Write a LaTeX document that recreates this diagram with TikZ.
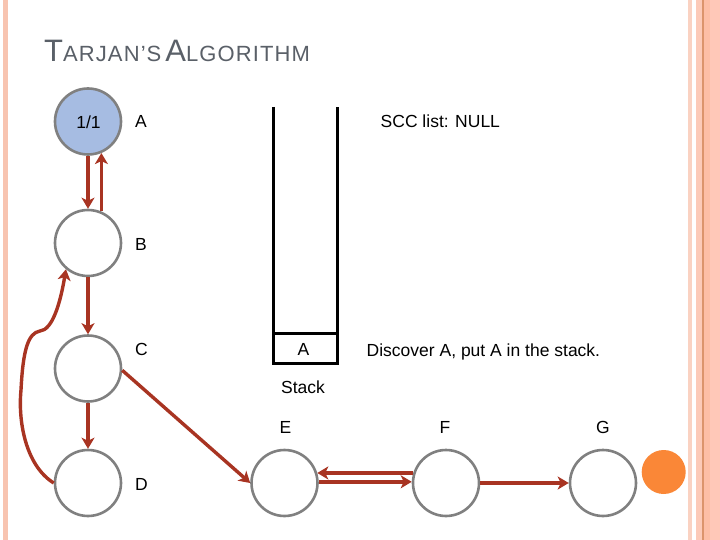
\documentclass[tikz,border=0pt]{standalone}
\usepackage{fontspec}
\setmainfont{Liberation Sans}
\usetikzlibrary{arrows.meta}
\definecolor{arrred}{RGB}{168,52,34}
\definecolor{nodegray}{RGB}{128,128,128}
\definecolor{afill}{RGB}{166,188,226}
\definecolor{titlegray}{RGB}{90,96,104}
\definecolor{dotorange}{RGB}{250,135,55}
\definecolor{stripeA}{RGB}{248,196,176}
\definecolor{stripeB}{RGB}{250,210,194}
\definecolor{stripeC}{RGB}{252,202,184}
\definecolor{stripeD}{RGB}{220,148,108}
\definecolor{stripeE}{RGB}{253,190,166}
\definecolor{stripeF}{RGB}{255,200,184}
\tikzset{
  vtx/.style={circle, draw=nodegray, line width=2.6pt, minimum size=66pt, inner sep=0pt, fill=white},
  lbl/.style={font=\fontsize{17.5}{21}\selectfont, anchor=base, inner sep=0pt, text=black},
  arr/.style={draw=arrred, line width=3.4pt, -{Stealth[length=11pt,width=13pt,inset=3pt]}},
  stackline/.style={line width=3pt, draw=black},
}
\begin{document}
\begin{tikzpicture}[x=1pt,y=-1pt]
\useasboundingbox (0,0) rectangle (720,540);
\fill[white] (0,0) rectangle (720,540);
% borders
\fill[stripeA] (3.3,0) rectangle (8.3,540);
\fill[stripeB] (688,0) rectangle (692,540);
\fill[stripeC] (696,0) rectangle (702,540);
\fill[stripeD] (702,0) rectangle (703.5,540);
\fill[stripeE] (703.5,0) rectangle (710,540);
\fill[stripeF] (710,0) rectangle (720,540);
% title
\node[anchor=base west, inner sep=0pt, text=titlegray] (title) at (44,61.7)
  {\addfontfeature{LetterSpace=5}\fontsize{31}{36}\selectfont T\fontsize{22}{27}\selectfont ARJAN’S\hspace{4pt}\fontsize{31}{36}\selectfont A\fontsize{22}{27}\selectfont LGORITHM};
% vertices
\node[vtx, fill=afill] (A) at (88,121.5) {};
\node[vtx] (B) at (88,243) {};
\node[vtx] (C) at (88,368.5) {};
\node[vtx] (D) at (88,483) {};
\node[vtx] (E) at (284.5,483) {};
\node[vtx] (F) at (446,483) {};
\node[vtx] (G) at (603,483) {};
\node[circle, fill=dotorange, minimum size=44pt, inner sep=0pt] (dot) at (663.7,472) {};
% labels
\node[lbl] (one) at (88.5,129) {1/1};
\node[lbl, anchor=base west] (la) at (135,128) {A};
\node[lbl, anchor=base west] (lb) at (135,250) {B};
\node[lbl, anchor=base west] (lc) at (135,355) {C};
\node[lbl, anchor=base west] (ld) at (135,490) {D};
\node[lbl] (le) at (285.5,433) {E};
\node[lbl] (lf) at (445,433) {F};
\node[lbl] (lg) at (603,433) {G};
\node[lbl, anchor=base west] (scc) at (380.5,128) {SCC list: NULL};
\node[lbl, anchor=base west] (disc) at (366.5,356) {Discover A, put A in the stack.};
% stack
\draw[stackline] (273,107) -- (273,363) -- (337,363) -- (337,107);
\draw[stackline] (273,333) -- (337,333);
\node[lbl] (sa) at (303.5,355) {A};
\node[lbl] (stk) at (303,393.3) {Stack};
% edges
\draw[arr] (A.south) -- (B.north);
\draw[arr] (B.67.5) -- (A.-67.5);
\draw[arr] (B) -- (C);
\draw[arr] (C) -- (D);
\draw[arr] (D.west) .. controls (25,465) and (18,420) .. (21,390)
   .. controls (23,350) and (28,333) .. (40,331)
   .. controls (52,330) and (60,305) .. (B.230);
\draw[arr] (C.-3) -- (E.180);
\draw[arr] (F.163) -- (E.17);
\draw[arr] (E.2) -- (F.178);
\draw[arr] (F) -- (G);
\end{tikzpicture}
\end{document}
